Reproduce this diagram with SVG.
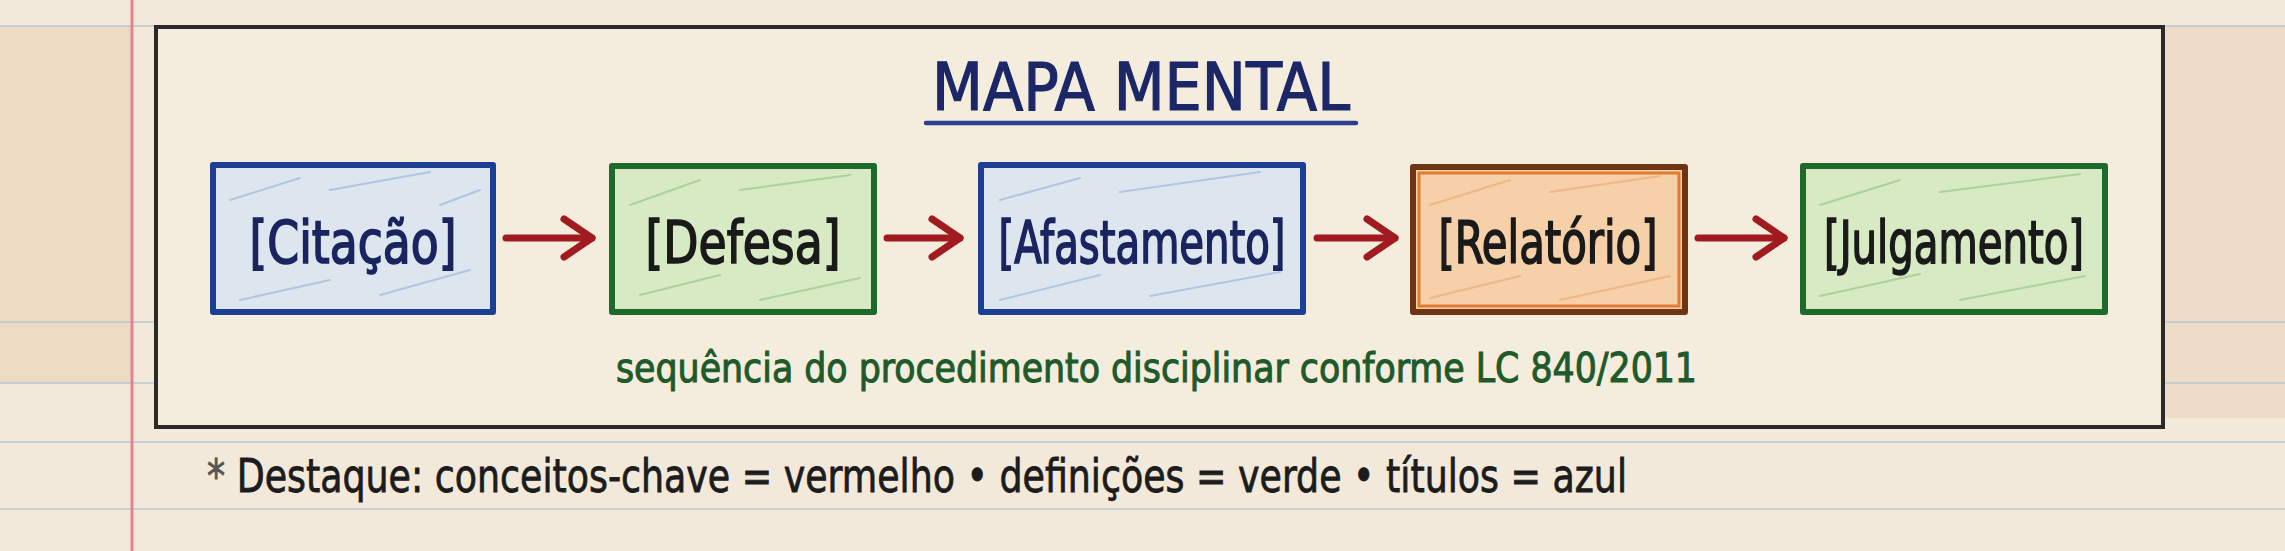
<svg xmlns="http://www.w3.org/2000/svg" width="2285" height="551" viewBox="0 0 2285 551">
<style>
.rule{stroke:#b8c6d2;stroke-width:1.6;fill:none}
.box{stroke-width:6;stroke-linejoin:round}
.blue{fill:#dde6ee;stroke:#1c3f94}
.green{fill:#d7eac4;stroke:#1e6a2a}
.orange{fill:#f6d0a8;stroke:#6e3414}
.lbl{font-family:"DejaVu Sans Condensed","DejaVu Sans","Liberation Sans",sans-serif;font-size:58px;text-anchor:middle;stroke-width:1.6}
.hatch{fill:none;stroke-width:2;stroke-linecap:round;opacity:.35}
.conn{stroke:#a11a1f;stroke-width:7;stroke-linecap:round;fill:none}
</style>
<defs>
<marker id="ah" markerUnits="userSpaceOnUse" viewBox="0 0 40 46" markerWidth="40" markerHeight="46" refX="35" refY="23" orient="auto">
<path d="M7,4 L35,23 L7,42" fill="none" stroke="#a11a1f" stroke-width="7" stroke-linecap="round" stroke-linejoin="round"/>
</marker>
</defs>
<g id="paper">
<rect x="0" y="0" width="2285" height="551" fill="#f2e9da"/>
<rect x="0" y="26" width="131" height="357" fill="#ebdbc3"/>
<rect x="2165" y="26" width="120" height="392" fill="#ecdcc8"/>
<line class="rule" x1="0" y1="26" x2="2285" y2="26"/>
<line class="rule" x1="0" y1="322" x2="2285" y2="322"/>
<line class="rule" x1="0" y1="383" x2="2285" y2="383"/>
<line class="rule" x1="0" y1="442" x2="2285" y2="442"/>
<line class="rule" x1="0" y1="509" x2="2285" y2="509"/>
<line x1="132" y1="0" x2="132" y2="551" stroke="#e4848e" stroke-width="3"/>
</g>
<g id="frame">
<rect x="156" y="27" width="2007" height="400" fill="#f4ecdd" stroke="#2a2a2a" stroke-width="4"/>
</g>
<g id="title">
<text x="1141" y="110" font-family="DejaVu Sans Condensed,DejaVu Sans,sans-serif" font-size="66" fill="#1c2768" stroke="#1c2768" stroke-width="1.2" text-anchor="middle" textLength="418" lengthAdjust="spacingAndGlyphs">MAPA MENTAL</text>
<line x1="926" y1="123" x2="1356" y2="123" stroke="#2a3f8f" stroke-width="4.5" stroke-linecap="round"/>
</g>
<g id="connectors">
<line class="conn" x1="506" y1="238" x2="592" y2="238" marker-end="url(#ah)"/>
<line class="conn" x1="887" y1="238" x2="960" y2="238" marker-end="url(#ah)"/>
<line class="conn" x1="1317" y1="238" x2="1395" y2="238" marker-end="url(#ah)"/>
<line class="conn" x1="1698" y1="238" x2="1784" y2="238" marker-end="url(#ah)"/>
</g>
<g id="node-citacao">
<rect class="box blue" x="213" y="165" width="280" height="147"/>
<path class="hatch" stroke="#5f86c8" d="M230,200 L300,178 M330,190 L430,172 M240,300 L330,280 M380,295 L470,270 M440,205 L480,190"/>
<text class="lbl" x="353" y="263" fill="#1a2560" stroke="#1a2560" textLength="207" lengthAdjust="spacingAndGlyphs">[Citação]</text>
</g>
<g id="node-defesa">
<rect class="box green" x="612" y="166" width="262" height="146"/>
<path class="hatch" stroke="#5aa84a" d="M630,205 L700,180 M740,190 L850,175 M640,295 L720,275 M760,300 L860,278"/>
<text class="lbl" x="743" y="263" fill="#1a1a1a" stroke="#1a1a1a" textLength="195" lengthAdjust="spacingAndGlyphs">[Defesa]</text>
</g>
<g id="node-afastamento">
<rect class="box blue" x="981" y="165" width="322" height="147"/>
<path class="hatch" stroke="#5f86c8" d="M1000,200 L1080,178 M1120,192 L1260,172 M1000,300 L1100,275 M1150,296 L1280,272"/>
<text class="lbl" x="1142" y="263" fill="#1a2560" stroke="#1a2560" textLength="287" lengthAdjust="spacingAndGlyphs">[Afastamento]</text>
</g>
<g id="node-relatorio">
<rect class="box orange" x="1413" y="167" width="272" height="145"/>
<rect x="1419" y="173" width="260" height="133" fill="none" stroke="#e07b35" stroke-width="3"/>
<path class="hatch" stroke="#e08a45" d="M1430,205 L1510,180 M1550,192 L1660,176 M1430,298 L1520,276 M1560,300 L1670,276"/>
<text class="lbl" x="1548" y="263" fill="#1a1a1a" stroke="#1a1a1a" textLength="219" lengthAdjust="spacingAndGlyphs">[Relatório]</text>
</g>
<g id="node-julgamento">
<rect class="box green" x="1803" y="166" width="302" height="146"/>
<path class="hatch" stroke="#5aa84a" d="M1820,205 L1900,180 M1940,192 L2080,174 M1820,296 L1920,274 M1960,300 L2085,276"/>
<text class="lbl" x="1954" y="263" fill="#1a1a1a" stroke="#1a1a1a" textLength="260" lengthAdjust="spacingAndGlyphs">[Julgamento]</text>
</g>
<g id="caption">
<text x="616" y="382" font-family="DejaVu Sans Condensed,DejaVu Sans,sans-serif" font-size="41" fill="#1f5a2a" stroke="#1f5a2a" stroke-width="1" textLength="1081" lengthAdjust="spacingAndGlyphs">sequência do procedimento disciplinar conforme LC 840/2011</text>
</g>
<g id="legend">
<text x="207" y="492" font-family="DejaVu Sans Condensed,DejaVu Sans,sans-serif" font-size="47" fill="#1c1c1c" stroke="#1c1c1c" stroke-width="0.8" textLength="1420" lengthAdjust="spacingAndGlyphs"><tspan fill="#555" stroke="#555">*</tspan> Destaque: conceitos-chave = vermelho • definições = verde • títulos = azul</text>
</g>
</svg>
